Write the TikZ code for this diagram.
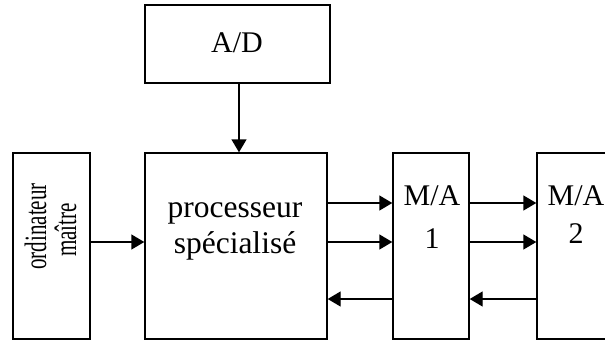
\documentclass[tikz,border=0pt]{standalone}
\usepackage{fontspec}
\setmainfont{Liberation Serif}
\usetikzlibrary{arrows.meta}
\begin{document}
\begin{tikzpicture}[x=1pt,y=1pt,
  blk/.style={draw, line width=1.4pt, inner sep=0pt, minimum width=76pt, minimum height=186pt},
  lbl/.style={font=\fontsize{30}{36}\selectfont, anchor=base, inner sep=0pt},
  biglbl/.style={lbl, font=\fontsize{31.5}{38}\selectfont},
  sidelbl/.style={font=\fontsize{31}{32}\selectfont, anchor=base, rotate=90, inner sep=0pt},
  flow/.style={line width=1.4pt, -{Triangle[length=13pt,width=15pt]}}]
\clip (0,0) rectangle (605,341);

% blocks
\node[blk, minimum width=185pt, minimum height=78pt] (ad) at (237.5,297) {};
\node[blk, minimum width=77pt] (ord) at (51.5,95) {};
\node[blk, minimum width=182pt] (proc) at (236,95) {};
\node[blk] (ma1) at (431,95) {};
\node[blk] (ma2) at (575,95) {};

% labels
\node[lbl] (tad) at (237,288) {A/D};
\node[biglbl] (tp1) at (235,124) {processeur};
\node[biglbl] (tp2) at (235,88) {spécialisé};
\node[lbl] (tm1a) at (432,136) {M/A};
\node[lbl] (tm1b) at (432,93) {1};
\node[lbl] (tm2a) at (576,136) {M/A};
\node[lbl] (tm2b) at (576,98) {2};
\node[sidelbl] (to1) at (46,114.5) {\scalebox{0.68}[1]{ordinateur}};
\node[sidelbl] (to2) at (76,111) {\scalebox{0.68}[1]{maître}};

% signal rows
\coordinate (r1) at (0,138);
\coordinate (r2) at (0,99);
\coordinate (r3) at (0,42);
\coordinate (cad) at (239,0);

% connectors
\draw[flow] (ad.south -| cad) -- (proc.north -| cad);
\draw[flow] (ord.east |- r2) -- (proc.west |- r2);
\draw[flow] (proc.east |- r1) -- (ma1.west |- r1);
\draw[flow] (proc.east |- r2) -- (ma1.west |- r2);
\draw[flow] (ma1.west |- r3) -- (proc.east |- r3);
\draw[flow] (ma1.east |- r1) -- (ma2.west |- r1);
\draw[flow] (ma1.east |- r2) -- (ma2.west |- r2);
\draw[flow] (ma2.west |- r3) -- (ma1.east |- r3);
\end{tikzpicture}
\end{document}
